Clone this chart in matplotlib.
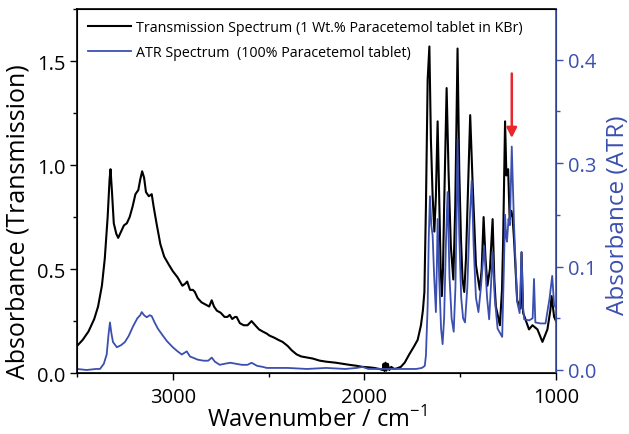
import matplotlib
matplotlib.use("Agg")
import matplotlib.pyplot as plt
from matplotlib.ticker import MultipleLocator, FixedLocator, FixedFormatter

plt.rcParams['font.family'] = ['Open Sans', 'DejaVu Sans']
plt.rcParams['mathtext.fontset'] = 'custom'
plt.rcParams['mathtext.rm'] = 'Open Sans'

# Transmission spectrum (left axis)
trans_wn = [3500, 3470, 3440, 3410, 3390, 3370, 3355, 3340, 3330, 3325, 3318, 3308, 3295, 3285,
            3270, 3255, 3240, 3225, 3210, 3195, 3180, 3170, 3160, 3150, 3140, 3125, 3110, 3100,
            3085, 3065, 3045, 3020, 3000, 2975, 2950, 2935, 2925, 2910, 2895, 2885, 2870, 2850,
            2830, 2810, 2797, 2785, 2770, 2750, 2730, 2715, 2703, 2690, 2675, 2667, 2650, 2630,
            2610, 2589, 2570, 2550, 2531, 2510, 2495, 2470, 2450, 2427, 2400, 2380, 2354, 2330,
            2300, 2270, 2234, 2200, 2150, 2115, 2080, 2040, 2010, 1980, 1950, 1922, 1905, 1900,
            1895, 1890, 1885, 1878, 1870, 1860, 1845, 1833, 1810, 1790, 1766, 1740, 1722, 1705,
            1695, 1687, 1679, 1670, 1661, 1653, 1644, 1635, 1627, 1618, 1609, 1602, 1596, 1590,
            1584, 1571, 1561, 1549, 1536, 1526, 1514, 1505, 1496, 1488, 1479, 1470, 1462, 1448,
            1436, 1418, 1398, 1388, 1378, 1368, 1358, 1345, 1331, 1322, 1314, 1293, 1282, 1276,
            1266, 1259, 1250, 1242, 1233, 1227, 1219, 1203, 1185, 1180, 1172, 1141, 1123, 1097,
            1071, 1045, 1030, 1023, 1010, 1000]
trans_abs = [0.13, 0.16, 0.20, 0.26, 0.32, 0.42, 0.55, 0.75, 0.93, 0.98, 0.88, 0.72, 0.67, 0.65,
             0.68, 0.71, 0.72, 0.75, 0.80, 0.86, 0.88, 0.93, 0.97, 0.94, 0.87, 0.85, 0.86, 0.80,
             0.72, 0.62, 0.56, 0.52, 0.49, 0.46, 0.42, 0.43, 0.44, 0.40, 0.40, 0.39, 0.36, 0.34,
             0.33, 0.32, 0.35, 0.32, 0.30, 0.29, 0.27, 0.27, 0.28, 0.26, 0.27, 0.27, 0.24, 0.23,
             0.23, 0.25, 0.23, 0.21, 0.20, 0.19, 0.18, 0.17, 0.16, 0.15, 0.13, 0.11, 0.09, 0.08,
             0.075, 0.07, 0.06, 0.055, 0.05, 0.045, 0.04, 0.035, 0.03, 0.028, 0.025, 0.02, 0.015, 0.045,
             0.01, 0.05, 0.012, 0.045, 0.015, 0.03, 0.02, 0.022, 0.03, 0.05, 0.09, 0.13, 0.16, 0.23,
             0.30, 0.39, 0.80, 1.41, 1.57, 1.12, 0.85, 0.68, 0.85, 1.21, 0.80, 0.50, 0.37, 0.50,
             0.80, 1.37, 0.97, 0.61, 0.45, 0.80, 1.56, 0.97, 0.64, 0.45, 0.39, 0.55, 0.80, 1.24,
             0.93, 0.52, 0.40, 0.50, 0.75, 0.55, 0.42, 0.50, 0.74, 0.45, 0.32, 0.23, 0.40, 0.64,
             1.21, 0.95, 0.98, 0.74, 0.78, 0.75, 0.64, 0.35, 0.31, 0.58, 0.29, 0.21, 0.23, 0.21,
             0.15, 0.21, 0.30, 0.37, 0.27, 0.25]

# ATR spectrum (right axis)
atr_wn = [3500, 3450, 3400, 3380, 3360, 3345, 3335, 3328, 3320, 3312, 3292, 3270, 3250, 3230,
          3208, 3185, 3170, 3162, 3150, 3136, 3120, 3110, 3095, 3078, 3055, 3031, 3000, 2975,
          2953, 2927, 2910, 2896, 2870, 2840, 2815, 2797, 2780, 2755, 2730, 2700, 2670, 2640,
          2610, 2589, 2560, 2530, 2510, 2400, 2300, 2200, 2100, 2040, 2010, 1980, 1900, 1800,
          1730, 1700, 1685, 1679, 1670, 1664, 1658, 1651, 1644, 1636, 1627, 1622, 1618, 1610,
          1600, 1592, 1584, 1575, 1566, 1556, 1545, 1534, 1525, 1518, 1514, 1505, 1495, 1485,
          1475, 1463, 1452, 1440, 1430, 1418, 1405, 1392, 1375, 1360, 1349, 1340, 1331, 1320,
          1305, 1281, 1272, 1266, 1261, 1256, 1248, 1241, 1231, 1219, 1203, 1190, 1180, 1172,
          1166, 1140, 1122, 1115, 1108, 1081, 1055, 1034, 1020, 1010, 1000]
atr_abs = [0.001, 0.0, 0.001, 0.001, 0.006, 0.015, 0.035, 0.046, 0.035, 0.027, 0.022, 0.024, 0.027, 0.033,
           0.042, 0.05, 0.053, 0.056, 0.053, 0.051, 0.053, 0.052, 0.046, 0.04, 0.034, 0.028, 0.022, 0.018,
           0.015, 0.018, 0.013, 0.012, 0.01, 0.009, 0.009, 0.012, 0.008, 0.005, 0.006, 0.007, 0.006, 0.005,
           0.005, 0.007, 0.004, 0.003, 0.002, 0.002, 0.001, 0.002, 0.001, 0.002, 0.003, 0.001, 0.001, 0.001,
           0.001, 0.002, 0.004, 0.014, 0.062, 0.13, 0.168, 0.14, 0.13, 0.09, 0.056, 0.10, 0.146, 0.09,
           0.04, 0.025, 0.05, 0.12, 0.172, 0.09, 0.05, 0.037, 0.08, 0.16, 0.223, 0.13, 0.07, 0.05,
           0.046, 0.08, 0.14, 0.183, 0.12, 0.07, 0.056, 0.08, 0.12, 0.07, 0.049, 0.08, 0.114, 0.07,
           0.04, 0.032, 0.10, 0.15, 0.13, 0.124, 0.146, 0.14, 0.216, 0.139, 0.066, 0.055, 0.114, 0.06,
           0.049, 0.048, 0.05, 0.088, 0.046, 0.045, 0.045, 0.069, 0.091, 0.063, 0.06]

# right axis tick labels as printed on the original
atr_ticks = [0.0, 0.1, 0.2, 0.3]
atr_ticklabels = ["0.0", "0.1", "0.3", "0.4"]

# arrow marking the band at ~1231 cm-1
arrow_wn = 1231
arrow_top, arrow_tip = 1.44, 1.13

blue = "#3b4fb0"

fig = plt.figure(figsize=(6.29, 4.35), dpi=100)
ax = fig.add_axes([0.1224, 0.140, 0.7616, 0.837])
ax2 = ax.twinx()

l1, = ax.plot(trans_wn, trans_abs, color="black", lw=1.5,
              label="Transmission Spectrum (1 Wt.% Paracetemol tablet in KBr)")
l2, = ax2.plot(atr_wn, atr_abs, color=blue, lw=1.3,
               label="ATR Spectrum  (100% Paracetemol tablet)")

ax.set_xlim(3500, 1000)
ax.set_ylim(0, 1.75)
ax2.set_ylim(-0.003, 0.349)

ax.xaxis.set_major_locator(MultipleLocator(1000))
ax.xaxis.set_minor_locator(MultipleLocator(500))
ax.yaxis.set_major_locator(MultipleLocator(0.5))
ax.yaxis.set_minor_locator(MultipleLocator(0.25))
ax2.yaxis.set_major_locator(FixedLocator(atr_ticks))
ax2.yaxis.set_major_formatter(FixedFormatter(atr_ticklabels))
ax2.yaxis.set_minor_locator(MultipleLocator(0.05))

ax.tick_params(axis="both", which="major", direction="out", length=5, width=1, labelsize=14.5)
ax.tick_params(axis="x", which="major", pad=5)
ax.tick_params(axis="both", which="minor", direction="out", length=3, width=1)
ax.tick_params(axis="y", which="both", right=False)
ax.tick_params(axis="x", which="both", top=False)
ax2.tick_params(axis="y", which="major", direction="out", length=5, width=1,
                labelsize=14.5, colors=blue)
ax2.tick_params(axis="y", which="minor", direction="out", length=3, width=1, colors=blue)
ax2.spines["right"].set_color(blue)
ax2.spines["right"].set_linewidth(1.2)
for s in ["left", "bottom", "top"]:
    ax.spines[s].set_linewidth(1.2)

ax.set_xlabel("Wavenumber / cm$^{-1}$", fontsize=17)
ax.xaxis.set_label_coords(0.5, -0.09)
ax.set_ylabel("Absorbance (Transmission)", fontsize=18)
ax.yaxis.set_label_coords(-0.098, 0.418)
ax2.set_ylabel("Absorbance (ATR)", fontsize=17.5, color=blue)
ax2.yaxis.set_label_coords(1.105, 0.437)

ax.annotate("", xy=(arrow_wn, arrow_tip), xytext=(arrow_wn, arrow_top),
            arrowprops=dict(arrowstyle="-|>", color="#e8262b", lw=1.8,
                            mutation_scale=15, shrinkA=0, shrinkB=0))

ax.legend(handles=[l1, l2], loc="upper left", frameon=False, fontsize=10.3,
          handlelength=3.0, handletextpad=0.35, borderaxespad=0.2, labelspacing=0.7,
          borderpad=0.6)

fig.savefig("out.png", dpi=100)
